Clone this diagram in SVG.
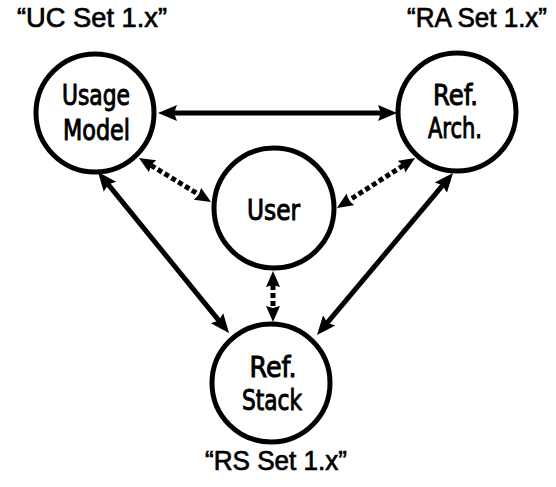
<svg xmlns="http://www.w3.org/2000/svg" width="556" height="487" viewBox="0 0 556 487">
<style>
.node{fill:none;stroke:#000;stroke-width:5}
.lbl{font-family:"DejaVu Sans Condensed","DejaVu Sans",sans-serif;font-size:28px;fill:#000;stroke:#000;stroke-width:0.9;text-anchor:middle}
.cap{font-family:"Liberation Sans",Arial,sans-serif;font-size:27px;fill:#000;stroke:#000;stroke-width:0.7}
.solid{fill:none;stroke:#000;stroke-width:5;marker-start:url(#ah);marker-end:url(#ah)}
.dot{fill:none;stroke:#000;stroke-width:5;stroke-dasharray:5 3;marker-start:url(#ahd);marker-end:url(#ahd)}
</style>
<defs>
<marker id="ah" markerUnits="userSpaceOnUse" markerWidth="20" markerHeight="18" refX="12" refY="8" orient="auto-start-reverse" viewBox="0 0 20 16">
<path d="M0,0 L19,8 L0,16 L3,8 z" fill="#000"/>
</marker>
<marker id="ahd" markerUnits="userSpaceOnUse" markerWidth="17" markerHeight="15" refX="10" refY="7" orient="auto-start-reverse" viewBox="0 0 17 14">
<path d="M0,0 L16,7 L0,14 L2,7 z" fill="#000"/>
</marker>
</defs>
<rect width="556" height="487" fill="#fff"/>
<g id="connectors">
<line class="solid" x1="165" y1="113" x2="390" y2="113"/>
<line class="solid" x1="102.4" y1="177.4" x2="224.6" y2="327.6"/>
<line class="solid" x1="448.5" y1="178.4" x2="321.5" y2="329.6"/>
<line class="dot" x1="144.1" y1="161.1" x2="205.9" y2="198.9"/>
<line class="dot" x1="410" y1="161.2" x2="342" y2="204.8"/>
<line class="dot" x1="273" y1="277" x2="273" y2="316"/>
</g>
<g id="usage-model">
<circle class="node" cx="95" cy="113" r="59"/>
<text class="lbl" x="96" y="105" textLength="68" lengthAdjust="spacingAndGlyphs">Usage</text>
<text class="lbl" x="96.5" y="140" textLength="67" lengthAdjust="spacingAndGlyphs">Model</text>
</g>
<g id="ref-arch">
<circle class="node" cx="457" cy="112" r="59"/>
<text class="lbl" x="455.5" y="105" textLength="45" lengthAdjust="spacingAndGlyphs">Ref.</text>
<text class="lbl" x="455" y="138" textLength="54" lengthAdjust="spacingAndGlyphs">Arch.</text>
</g>
<g id="user">
<circle class="node" cx="274" cy="208" r="60"/>
<text class="lbl" x="273.5" y="220" textLength="53" lengthAdjust="spacingAndGlyphs">User</text>
</g>
<g id="ref-stack">
<circle class="node" cx="271" cy="383" r="59"/>
<text class="lbl" x="273" y="377" textLength="47" lengthAdjust="spacingAndGlyphs">Ref.</text>
<text class="lbl" x="272" y="410" textLength="60" lengthAdjust="spacingAndGlyphs">Stack</text>
</g>
<g id="captions">
<text class="cap" x="17" y="27" textLength="150" lengthAdjust="spacingAndGlyphs">“UC Set 1.x”</text>
<text class="cap" x="407" y="27" textLength="140" lengthAdjust="spacingAndGlyphs">“RA Set 1.x”</text>
<text class="cap" x="205" y="470" textLength="142" lengthAdjust="spacingAndGlyphs">“RS Set 1.x”</text>
</g>
</svg>
